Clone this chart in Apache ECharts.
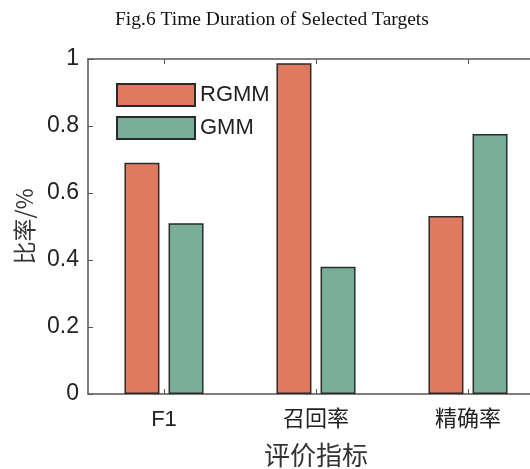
<!DOCTYPE html>
<html>
<head>
<meta charset="utf-8">
<script src="https://cdn.jsdelivr.net/npm/echarts@6/dist/echarts.min.js"></script>
<style>
  html, body { margin: 0; padding: 0; background: #fff; }
  #chart { width: 530px; height: 469px; }
</style>
</head>
<body>
<div id="chart"></div>
<script>
// Evaluation metrics and scores for the two models
const categories = ['F1', '召回率', '精确率'];
const rgmmValues = [0.69, 0.987, 0.531];
const gmmValues = [0.51, 0.38, 0.776];
const yTicks = [0, 0.2, 0.4, 0.6, 0.8, 1];

const sansFont = '"Liberation Sans", Arial, "Noto Sans CJK SC", sans-serif';
const cjkFont = '"Noto Sans CJK SC", "Liberation Sans", sans-serif';
const axisColor = '#555';

const chart = echarts.init(document.getElementById('chart'), null, { renderer: 'canvas' });

chart.setOption({
  backgroundColor: '#fff',
  animation: false,
  title: {
    text: 'Fig.6 Time Duration of Selected Targets',
    left: 110,
    top: 5,
    textStyle: {
      fontFamily: '"Liberation Serif", "Times New Roman", serif',
      fontSize: 19.5,
      fontWeight: 'normal',
      color: '#111'
    }
  },
  legend: {
    orient: 'vertical',
    left: 116,
    top: 83,
    padding: 0,
    itemWidth: 78,
    itemHeight: 22,
    itemGap: 9,
    icon: 'rect',
    textStyle: { fontFamily: sansFont, fontSize: 22, color: '#222' },
    data: ['RGMM', 'GMM']
  },
  grid: { left: 88, top: 59, width: 456, bottom: 75, containLabel: false, outerBoundsMode: 'none' },
  xAxis: [
    {
      type: 'category',
      data: categories,
      position: 'bottom',
      axisLine: { lineStyle: { color: axisColor, width: 1.5 } },
      axisTick: { show: true, inside: true, alignWithLabel: true, length: 5, lineStyle: { color: axisColor } },
      axisLabel: {
        margin: 15,
        fontSize: 22,
        color: '#222',
        fontFamily: sansFont
      },
      name: '评价指标',
      nameLocation: 'middle',
      nameGap: 48,
      nameTextStyle: { fontFamily: cjkFont, fontSize: 26, color: '#333' }
    },
    {
      type: 'category',
      data: categories,
      position: 'top',
      axisLine: { lineStyle: { color: axisColor, width: 1.5 } },
      axisTick: { show: true, inside: true, alignWithLabel: true, length: 5, lineStyle: { color: axisColor } },
      axisLabel: { show: false }
    }
  ],
  yAxis: {
    type: 'value',
    min: yTicks[0],
    max: yTicks[yTicks.length - 1],
    interval: 0.2,
    axisLine: { show: true, lineStyle: { color: axisColor, width: 1.5 } },
    axisTick: { show: true, inside: true, length: 5, lineStyle: { color: axisColor } },
    splitLine: { show: false },
    axisLabel: {
      margin: 9,
      fontSize: 23,
      color: '#222',
      fontFamily: sansFont
    },
    name: '比率/%',
    nameLocation: 'middle',
    nameRotate: 90,
    nameGap: 52,
    nameTextStyle: { fontFamily: cjkFont, fontSize: 23, color: '#333' }
  },
  series: [
    {
      name: 'RGMM',
      type: 'bar',
      data: rgmmValues,
      barWidth: 35,
      barGap: '26%',
      itemStyle: { color: '#DF7A5E', borderColor: '#2a2a2a', borderWidth: 1.5 }
    },
    {
      name: 'GMM',
      type: 'bar',
      data: gmmValues,
      barWidth: 35,
      barGap: '26%',
      itemStyle: { color: '#78AE98', borderColor: '#2a2a2a', borderWidth: 1.5 }
    }
  ]
});
</script>
</body>
</html>
